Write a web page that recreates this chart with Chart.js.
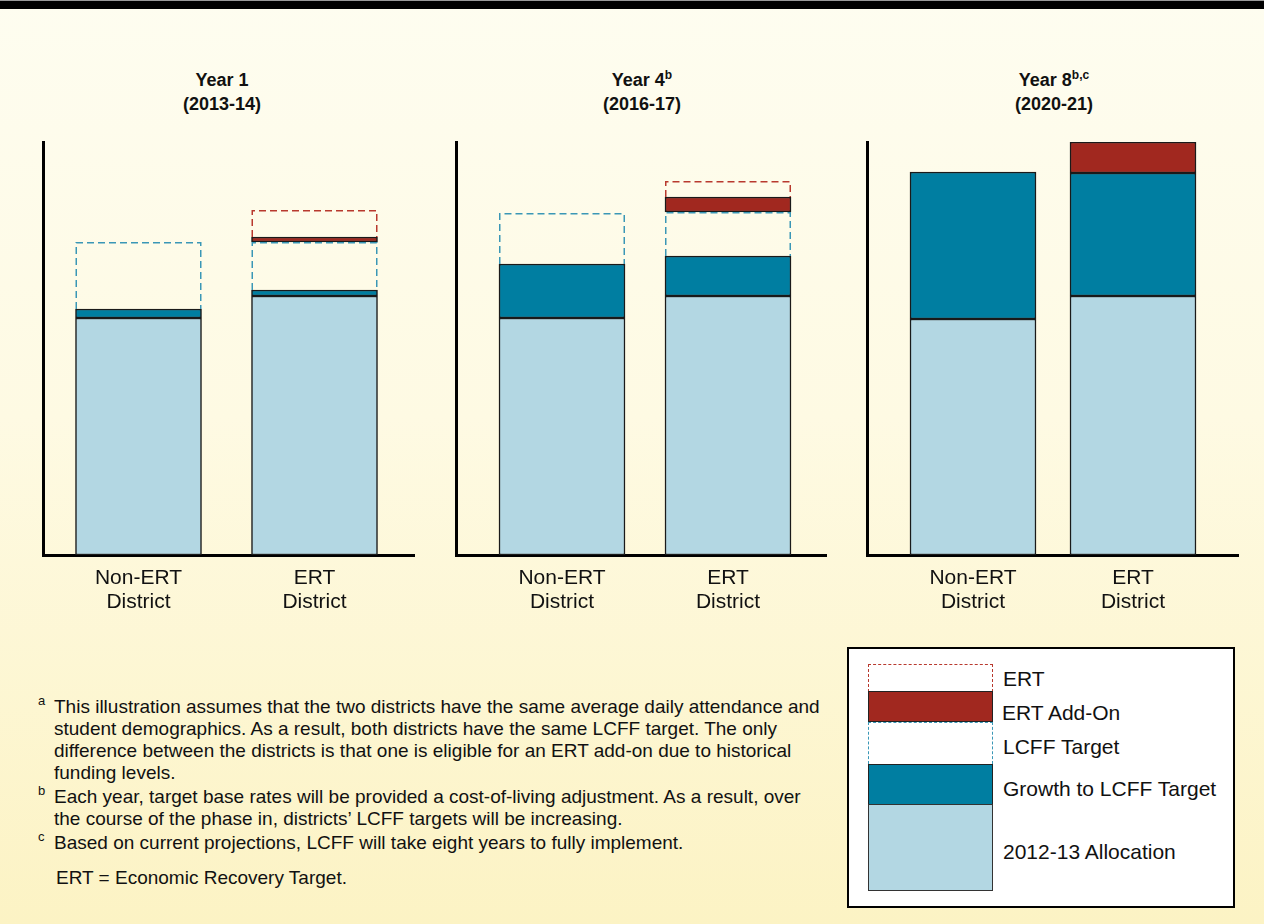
<!DOCTYPE html>
<html>
<head>
<meta charset="utf-8">
<script src="https://cdn.jsdelivr.net/npm/chart.js@4.4.1/dist/chart.umd.min.js"></script>
<style>
html,body{margin:0;padding:0;}
body{width:1264px;height:924px;position:relative;overflow:hidden;
  background:linear-gradient(to bottom,#FEFDF0 0%,#FEFAE3 45%,#FCF3C4 100%);
  font-family:"Liberation Sans",Arial,Helvetica,sans-serif;color:#111;}
.topbar{position:absolute;left:0;top:1px;width:1264px;height:8px;background:#000;}
.topline{position:absolute;left:0;top:0;width:1264px;height:1px;background:#999;}
.title{position:absolute;top:68px;width:200px;text-align:center;font-weight:bold;font-size:18px;line-height:24px;}
.title sup{font-size:12px;line-height:0;vertical-align:7px;}
canvas{position:absolute;}
.fn{position:absolute;left:54px;font-size:19px;line-height:22px;white-space:nowrap;}
.fn .m{position:absolute;left:-16px;top:-6px;font-size:13px;}
.lbox{position:absolute;left:847px;top:647px;width:388px;height:261px;box-sizing:border-box;border:2px solid #000;background:#fff;}
.sw{position:absolute;left:868px;width:125px;box-sizing:border-box;}
.lab{position:absolute;left:1003px;font-size:21px;line-height:24px;white-space:nowrap;color:#111;}
</style>
</head>
<body>
<div class="topline"></div>
<div class="topbar"></div>

<div class="title" style="left:122px">Year 1<br>(2013-14)</div>
<div class="title" style="left:542px">Year 4<sup>b</sup><br>(2016-17)</div>
<div class="title" style="left:954px">Year 8<sup>b,c</sup><br>(2020-21)</div>

<canvas id="c0"></canvas>
<canvas id="c1"></canvas>
<canvas id="c2"></canvas>

<div class="fn" style="top:696px"><span class="m">a</span>This illustration assumes that the two districts have the same average daily attendance and<br>student demographics. As a result, both districts have the same LCFF target. The only<br>difference between the districts is that one is eligible for an ERT add-on due to historical<br>funding levels.</div>
<div class="fn" style="top:786px"><span class="m">b</span>Each year, target base rates will be provided a cost-of-living adjustment. As a result, over<br>the course of the phase in, districts’ LCFF targets will be increasing.</div>
<div class="fn" style="top:832px"><span class="m">c</span>Based on current projections, LCFF will take eight years to fully implement.</div>
<div class="fn" style="top:867px;left:56px">ERT = Economic Recovery Target.</div>

<div class="lbox"></div>
<div class="sw" style="top:664px;height:28px;border:1.5px dashed #B8392E;border-bottom:none;background:#fff"></div>
<div class="sw" style="top:691px;height:31px;border:1.5px solid #222;background:#A1281F"></div>
<div class="sw" style="top:722px;height:42px;border:1.5px dashed #3A97B6;border-bottom:none;background:#fff"></div>
<div class="sw" style="top:764px;height:41px;border:1.5px solid #222;background:#007EA1"></div>
<div class="sw" style="top:804px;height:87px;border:1.5px solid #333;background:#B3D7E3"></div>
<div class="lab" style="top:667px">ERT</div>
<div class="lab" style="top:701px;left:1002px">ERT Add-On</div>
<div class="lab" style="top:735px">LCFF Target</div>
<div class="lab" style="top:777px">Growth to LCFF Target</div>
<div class="lab" style="top:840px">2012-13 Allocation</div>

<script>
// ---- data (arbitrary funding units) ----
const categories = [['Non-ERT', 'District'], ['ERT', 'District']];
const years = ['Year 1', 'Year 4', 'Year 8'];
const allocation2012 = [[237, 259], [237, 259], [236, 259]];
const growthToTarget = [[9, 6], [54, 40], [147, 123]];
const lcffTargetGap = [[67, 48], [51, 44], [0, 0]];
const ertAddOn = [[0, 5], [0, 15], [0, 31]];
const ertGap = [[0, 27], [0, 16], [0, 0]];
const yMax = 413;

// ---- layout (pixels) ----
const layouts = [
  {axisL: 43, axisR: 414, c0: 138.5, c1: 314.5, bw: 126},
  {axisL: 456, axisR: 826, c0: 562, c1: 728, bw: 126},
  {axisL: 867, axisR: 1238, c0: 973, c1: 1133, bw: 126}
];
const PAD = 10, TOP = 132, XAXIS_H = 70, PLOT_H = 413;

const dashedOutline = {
  id: 'dashedOutline',
  afterDatasetsDraw(chart) {
    const ctx = chart.ctx;
    chart.data.datasets.forEach((ds, i) => {
      if (!ds.dashColor) return;
      const meta = chart.getDatasetMeta(i);
      meta.data.forEach((el, j) => {
        const d = ds.data[j];
        if (!d || d.y == null) return;
        const p = el.getProps(['x', 'y', 'base', 'width'], true);
        const l = p.x - p.width / 2 + 0.75, r = p.x + p.width / 2 - 0.75;
        const t = p.y + 0.75;
        ctx.save();
        ctx.strokeStyle = ds.dashColor;
        ctx.lineWidth = 1.5;
        ctx.setLineDash([7, 4]);
        ctx.beginPath();
        ctx.moveTo(l, p.base);
        ctx.lineTo(l, t);
        ctx.lineTo(r, t);
        ctx.lineTo(r, p.base);
        ctx.stroke();
        ctx.restore();
      });
    });
  }
};

function toPoints(arr) {
  return arr.map((v, i) => ({x: i, y: v ? v : null}));
}

Chart.defaults.font.family = '"Liberation Sans", Arial, Helvetica, sans-serif';

years.forEach((yr, k) => {
  const L = layouts[k];
  const cv = document.getElementById('c' + k);
  const w = L.axisR - L.axisL + 2 * PAD;
  const h = PAD + PLOT_H + XAXIS_H;
  cv.width = w; cv.height = h;
  cv.style.left = (L.axisL - PAD) + 'px';
  cv.style.top = TOP + 'px';
  cv.style.width = w + 'px'; cv.style.height = h + 'px';
  const unit = L.c1 - L.c0;
  const xmin = -(L.c0 - L.axisL) / unit;
  const xmax = 1 + (L.axisR - L.c1) / unit;
  const solid = {borderColor: '#1a1a1a', borderWidth: 1.5, borderSkipped: false, barThickness: L.bw};
  const hollow = {backgroundColor: 'rgba(0,0,0,0)', borderWidth: 0, barThickness: L.bw};
  new Chart(cv, {
    type: 'bar',
    data: {
      datasets: [
        Object.assign({label: '2012-13 Allocation', data: toPoints(allocation2012[k]), backgroundColor: '#B3D7E3'}, solid),
        Object.assign({label: 'Growth to LCFF Target', data: toPoints(growthToTarget[k]), backgroundColor: '#007EA1'}, solid),
        Object.assign({label: 'LCFF Target', data: toPoints(lcffTargetGap[k]), dashColor: '#3A97B6'}, hollow),
        Object.assign({label: 'ERT Add-On', data: toPoints(ertAddOn[k]), backgroundColor: '#A1281F'}, solid),
        Object.assign({label: 'ERT', data: toPoints(ertGap[k]), dashColor: '#B8392E'}, hollow)
      ]
    },
    options: {
      responsive: false,
      animation: false,
      layout: {padding: {left: PAD, right: PAD, top: PAD, bottom: 0}},
      plugins: {legend: {display: false}, tooltip: {enabled: false}},
      scales: {
        x: {
          type: 'linear', stacked: true, min: xmin, max: xmax,
          bounds: 'data', offset: false,
          grid: {display: false, drawTicks: false},
          border: {display: true, color: '#000', width: 3},
          afterBuildTicks: s => { s.ticks = categories.map((c, i) => ({value: i})); },
          afterFit: s => { s.height = XAXIS_H; },
          ticks: {
            callback: v => categories[v],
            color: '#111', font: {size: 21, lineHeight: 1.15}, padding: 11,
            maxRotation: 0, autoSkip: false
          }
        },
        y: {
          stacked: true, min: 0, max: yMax,
          grid: {display: false, drawTicks: false},
          border: {display: true, color: '#000', width: 3},
          ticks: {display: false},
          afterFit: s => { s.width = 0; }
        }
      }
    },
    plugins: [dashedOutline]
  });
});
</script>
</body>
</html>
